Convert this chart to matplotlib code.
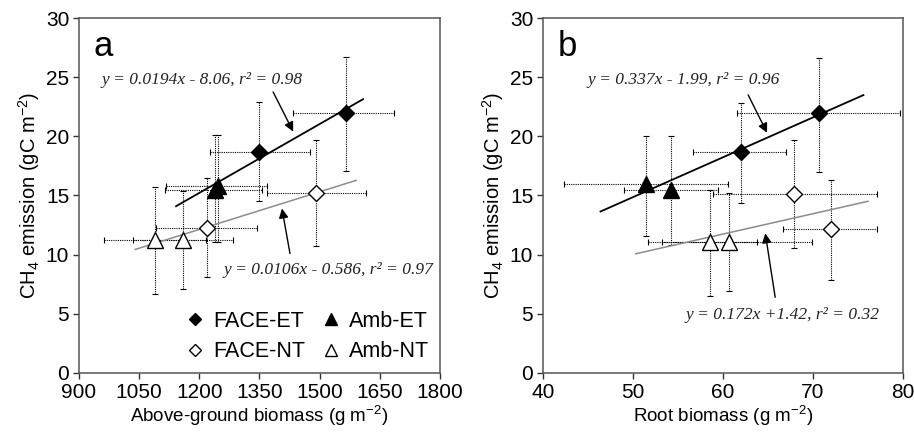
import numpy as np
import matplotlib
matplotlib.use('Agg')
import matplotlib.pyplot as plt
from matplotlib.lines import Line2D

# ------------------------------------------
# DATA
# panel a: above-ground biomass
a_face_et_x = [1565, 1349]
a_face_et_y = [22.0, 18.7]
a_face_et_xerr = [[131, 122], [121, 127]]
a_face_et_yerr = [[4.9, 4.2], [4.7, 4.2]]

a_amb_et_x = [1240, 1247]
a_amb_et_y = [15.5, 15.8]
a_amb_et_xerr = [[126, 130], [116, 122]]
a_amb_et_yerr = [[4.4, 4.7], [4.6, 4.3]]

a_face_nt_x = [1491, 1219]
a_face_nt_y = [15.2, 12.25]
a_face_nt_xerr = [[122, 127], [125, 125]]
a_face_nt_yerr = [[4.5, 4.15], [4.5, 4.25]]

a_amb_nt_x = [1089, 1159]
a_amb_nt_y = [11.2, 11.2]
a_amb_nt_xerr = [[127, 124], [128, 125]]
a_amb_nt_yerr = [[4.5, 4.1], [4.5, 4.2]]

# panel b: root biomass
b_face_et_x = [70.7, 62.0]
b_face_et_y = [22.0, 18.7]
b_face_et_xerr = [[9.1, 5.3], [9.0, 5.0]]
b_face_et_yerr = [[5.0, 4.3], [4.6, 4.1]]

b_amb_et_x = [51.4, 54.2]
b_amb_et_y = [16.0, 15.5]
b_amb_et_xerr = [[9.1, 5.2], [9.2, 5.2]]
b_amb_et_yerr = [[4.4, 4.7], [4.0, 4.5]]

b_face_nt_x = [67.9, 72.0]
b_face_nt_y = [15.1, 12.2]
b_face_nt_xerr = [[9.0, 5.3], [9.2, 5.1]]
b_face_nt_yerr = [[4.5, 4.3], [4.6, 4.1]]

b_amb_nt_x = [58.6, 60.7]
b_amb_nt_y = [11.1, 11.1]
b_amb_nt_xerr = [[6.9, 7.5], [5.2, 9.2]]
b_amb_nt_yerr = [[4.6, 4.2], [4.4, 4.1]]

# regression lines: (slope, intercept, x start, x end)
a_fit_et = (0.0194, -8.06, 1142, 1608)
a_fit_nt = (0.0106, -0.586, 1040, 1591)
b_fit_et = (0.337, -1.99, 46.4, 75.6)
b_fit_nt = (0.172, 1.42, 50.3, 76.1)

a_eq_et = "y = 0.0194x - 8.06, r² = 0.98"
a_eq_nt = "y = 0.0106x - 0.586, r² = 0.97"
b_eq_et = "y = 0.337x - 1.99, r² = 0.96"
b_eq_nt = "y = 0.172x +1.42, r² = 0.32"

a_xticks = [900, 1050, 1200, 1350, 1500, 1650, 1800]
b_xticks = [40, 50, 60, 70, 80]
yticks = [0, 5, 10, 15, 20, 25, 30]

# ------------------------------------------
plt.rcParams['font.family'] = ['Liberation Sans', 'DejaVu Sans']
plt.rcParams['mathtext.fontset'] = 'custom'
plt.rcParams['mathtext.rm'] = 'Liberation Sans'
fig = plt.figure(figsize=(9.14, 4.33), dpi=100)
axa = fig.add_axes([0.0864, 0.1386, 0.395, 0.8198])
axb = fig.add_axes([0.594, 0.1386, 0.394, 0.8198])

styles = {
    'FACE-ET': dict(marker='D', mfc='black', mec='black', ms=8),
    'Amb-ET': dict(marker='^', mfc='black', mec='black', ms=11),
    'FACE-NT': dict(marker='D', mfc='white', mec='black', ms=8),
    'Amb-NT': dict(marker='^', mfc='white', mec='black', ms=11),
}


def draw_group(ax, x, y, xerr, yerr, name):
    eb = ax.errorbar(x, y, xerr=xerr, yerr=yerr, fmt='none', ecolor='black',
                     elinewidth=0.8, capsize=2.5, capthick=0.8, zorder=2)
    for lc in eb[2]:
        lc.set_linestyle((0, (1, 1)))
    ax.plot(x, y, linestyle='none', mew=1.0, zorder=4, **styles[name])


def draw_fit(ax, fit, color, lw):
    k, b, x0, x1 = fit
    xs = np.array([x0, x1])
    ax.plot(xs, k * xs + b, color=color, lw=lw, zorder=3)


def style_axes(ax, xticks, xlabel):
    ax.set_ylim(0, 30)
    ax.set_xlim(xticks[0], xticks[-1])
    ax.set_xticks(xticks)
    ax.set_yticks(yticks)
    ax.tick_params(direction='out', length=4, width=1, labelsize=15,
                   colors='#333333', labelcolor='black', pad=3)
    for s in ax.spines.values():
        s.set_color('#555555')
        s.set_linewidth(1.1)
    ax.set_xlabel(xlabel, fontsize=13.5, labelpad=1)
    ax.set_ylabel('CH$_4$ emission (gC m$^{-2}$)', fontsize=14.5, labelpad=3)


# panel a
draw_group(axa, a_face_et_x, a_face_et_y, a_face_et_xerr, a_face_et_yerr, 'FACE-ET')
draw_group(axa, a_face_nt_x, a_face_nt_y, a_face_nt_xerr, a_face_nt_yerr, 'FACE-NT')
draw_group(axa, a_amb_nt_x, a_amb_nt_y, a_amb_nt_xerr, a_amb_nt_yerr, 'Amb-NT')
draw_group(axa, a_amb_et_x, a_amb_et_y, a_amb_et_xerr, a_amb_et_yerr, 'Amb-ET')
draw_fit(axa, a_fit_et, 'black', 1.3)
draw_fit(axa, a_fit_nt, '#8c8c8c', 1.1)
style_axes(axa, a_xticks, 'Above-ground biomass (g m$^{-2}$)')

eqfont = dict(family='Liberation Serif', style='italic', fontsize=12.5, color='#222222')
axa.text(957, 24.8, a_eq_et, va='center', ha='left', **eqfont)
axa.text(1259, 8.7, a_eq_nt, va='center', ha='left', **eqfont)
arrow = dict(arrowstyle='-|>', color='black', lw=1.0, mutation_scale=14, shrinkA=0, shrinkB=0)
axa.annotate('', xy=(1434, 20.4), xytext=(1384, 23.75), arrowprops=arrow)
axa.annotate('', xy=(1406, 13.9), xytext=(1426, 10.1), arrowprops=arrow)
axa.text(0.04, 0.965, 'a', transform=axa.transAxes, fontsize=25, va='top', ha='left')

handles = [Line2D([], [], linestyle='none', mew=1.0, **dict(styles[n], ms=styles[n]['ms'] * 0.8))
           for n in ['FACE-ET', 'FACE-NT', 'Amb-ET', 'Amb-NT']]
axa.legend(handles, ['FACE-ET', 'FACE-NT', 'Amb-ET', 'Amb-NT'], ncol=2, loc='lower right',
           frameon=False, fontsize=15.5, handlelength=0.8, handletextpad=0.45,
           columnspacing=0.8, labelspacing=0.45, borderaxespad=0.1)

# panel b
draw_group(axb, b_face_et_x, b_face_et_y, b_face_et_xerr, b_face_et_yerr, 'FACE-ET')
draw_group(axb, b_face_nt_x, b_face_nt_y, b_face_nt_xerr, b_face_nt_yerr, 'FACE-NT')
draw_group(axb, b_amb_nt_x, b_amb_nt_y, b_amb_nt_xerr, b_amb_nt_yerr, 'Amb-NT')
draw_group(axb, b_amb_et_x, b_amb_et_y, b_amb_et_xerr, b_amb_et_yerr, 'Amb-ET')
draw_fit(axb, b_fit_et, 'black', 1.3)
draw_fit(axb, b_fit_nt, '#8c8c8c', 1.1)
style_axes(axb, b_xticks, 'Root biomass (g m$^{-2}$)')
axb.text(44.9, 24.8, b_eq_et, va='center', ha='left', **eqfont)
axb.text(55.8, 4.9, b_eq_nt, va='center', ha='left', **eqfont)
axb.annotate('', xy=(64.9, 20.3), xytext=(62.8, 23.5), arrowprops=arrow)
axb.annotate('', xy=(64.7, 11.8), xytext=(65.8, 6.4), arrowprops=arrow)
axb.text(0.04, 0.965, 'b', transform=axb.transAxes, fontsize=25, va='top', ha='left')

fig.savefig('out.png', dpi=100)
